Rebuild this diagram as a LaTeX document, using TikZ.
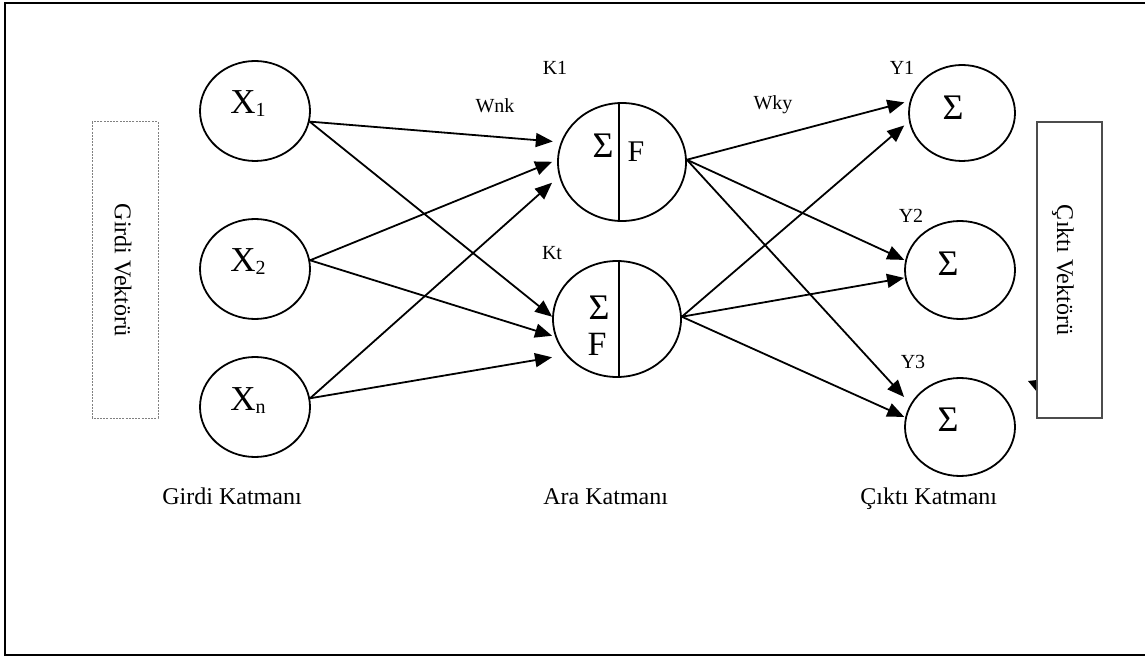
\documentclass[tikz,border=0pt]{standalone}
\usepackage{fontspec}
\setmainfont{Liberation Serif}
\usetikzlibrary{arrows.meta,shapes.geometric}
\newcommand\myX[1]{{\fontsize{17.5}{18}\selectfont X}\raisebox{-1.5pt}{\fontsize{10}{10}\selectfont #1}}
\begin{document}
\begin{tikzpicture}[x=0.5pt,y=-0.5pt,
  neuron/.style={draw,ellipse,line width=0.9pt,inner sep=0pt},
  conn/.style={line width=0.9pt,-{Triangle[length=8.5pt,width=7pt]}},
  small/.style={font=\fontsize{10}{12}\selectfont,inner sep=0pt,anchor=base},
  layer/.style={font=\fontsize{12}{14}\selectfont,inner sep=0pt,anchor=base west},
  sig/.style={font=\fontsize{18}{18}\selectfont,inner sep=0pt},
  vtext/.style={font=\fontsize{12}{14}\selectfont,inner sep=0pt,rotate=-90}
]
\useasboundingbox (0,0) rectangle (1145,657);
% outer frame
\draw[line width=0.8pt] (5,3) rectangle (1150,655);

% input layer
\node[neuron,minimum width=55pt,minimum height=50pt] (x1) at (255,111) {};
\node[neuron,minimum width=55pt,minimum height=50pt] (x2) at (255,269) {};
\node[neuron,minimum width=55pt,minimum height=50pt] (xn) at (255,407) {};
\node[inner sep=0pt] (x1t) at (248,104) {\myX{1}};
\node[inner sep=0pt] (x2t) at (248,262) {\myX{2}};
\node[inner sep=0pt] (xnt) at (248,401) {\myX{n}};

% hidden layer
\node[neuron,minimum width=64pt,minimum height=59pt] (k1) at (622,162) {};
\node[neuron,minimum width=64pt,minimum height=58pt] (kt) at (617,319) {};
\draw[line width=0.9pt] (619,102) -- (619,221);
\draw[line width=0.9pt] (619,260) -- (619,378);
\node[sig] (k1s) at (603,146) {Σ};
\node[inner sep=0pt,font=\fontsize{15}{15}\selectfont] (k1f) at (636,152) {F};
\node[sig] (kts) at (599,308) {Σ};
\node[inner sep=0pt,font=\fontsize{17}{17}\selectfont] (ktf) at (597,344) {F};

% output layer
\node[neuron,minimum width=53pt,minimum height=48pt] (y1) at (962,113) {};
\node[neuron,minimum width=55pt,minimum height=49pt] (y2) at (960,270) {};
\node[neuron,minimum width=55pt,minimum height=49pt] (y3) at (960,427) {};
\node[sig] (y1s) at (953,108) {Σ};
\node[sig] (y2s) at (948,264) {Σ};
\node[sig] (y3s) at (948,420) {Σ};

% connections input -> hidden
\draw[conn,shorten >=4pt]   (x1.-11) -- (k1.162);
\draw[conn,shorten >=2.7pt] (x2.9)   -- (k1.178);
\draw[conn,shorten >=4.7pt] (xn.9)   -- (k1.193);
\draw[conn]                 (x1.-11) -- (kt.178);
\draw[conn,shorten >=1.6pt] (x2.9)   -- (kt.196);
\draw[conn,shorten >=6.9pt] (xn.9)   -- (kt.215);

% connections hidden -> output
\draw[conn,shorten >=2.8pt] (k1.2) -- (y1.167);
\draw[conn,shorten >=0.5pt] (k1.2) -- (y2.170);
\draw[conn,shorten >=4.7pt] (k1.2) -- (y3.155);
\draw[conn,shorten >=3.1pt] (kt.2) -- (y1.189);
\draw[conn,shorten >=0.4pt] (kt.2) -- (y2.188);
\draw[conn,shorten >=0.5pt] (kt.2) -- (y3.170);

% small labels
\node[small] (lk1) at (555,75) {K1};
\node[small] (lkt) at (552,260) {Kt};
\node[small] (lwnk) at (495,113) {Wnk};
\node[small] (lwky) at (773,110) {Wky};
\node[small] (ly1) at (902,75) {Y1};
\node[small] (ly2) at (911,223) {Y2};
\node[small] (ly3) at (913,369) {Y3};

% layer names
\node[layer] (lgk) at (162,504) {Girdi Katmanı};
\node[layer] (lak) at (543,504) {Ara Katmanı};
\node[layer] (lck) at (860,504) {Çıktı Katmanı};

% vector boxes
\draw[gray,line width=0.5pt,dash pattern=on 1pt off 0.6pt] (92,122) rectangle (158,418);
\node[vtext] (gv) at (123,270) {Girdi Vektörü};
\fill (1028,381) -- (1037,380) -- (1037,392) -- cycle;
\draw[fill=white,draw=black!70,line width=0.6pt] (1037,122) rectangle (1102,418);
\node[vtext] (cv) at (1063,270) {Çıktı Vektörü};
\end{tikzpicture}
\end{document}
